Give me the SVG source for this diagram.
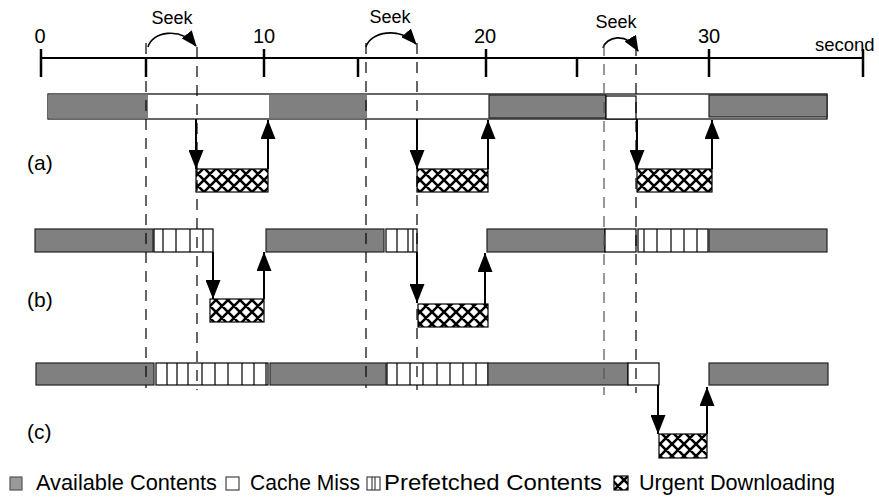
<svg xmlns="http://www.w3.org/2000/svg" width="879" height="499" viewBox="0 0 879 499">
<defs>
<pattern id="hatch" patternUnits="userSpaceOnUse" width="12" height="12" x="0" y="0">
<rect width="12" height="12" fill="#fff"/>
<path d="M0,0 L12,12 M12,0 L0,12 M-6,6 L0,0 M6,18 L18,6 M-6,6 L6,18 M6,-6 L18,6" stroke="#000" stroke-width="2.6"/>
</pattern>
<marker id="ah" viewBox="0 0 19 15" refX="19" refY="7.5" markerWidth="9.5" markerHeight="7.5" markerUnits="strokeWidth" orient="auto">
<path d="M0,0 L19,7.5 L0,15 Z" fill="#000"/>
</marker>
<marker id="sk" viewBox="0 0 16 13" refX="15" refY="6.5" markerWidth="10" markerHeight="8.1" markerUnits="strokeWidth" orient="auto">
<path d="M0,0 L16,6.5 L0,13 Z" fill="#000"/>
</marker>
</defs>
<style>
.t{font-family:"Liberation Sans",Arial,sans-serif;fill:#000}
.num{font-size:20px;text-anchor:middle}
.sk{font-size:18px;text-anchor:middle}
.lab{font-size:21px}
.leg{font-size:21.7px}
.g{fill:#808080;stroke:#222;stroke-width:1.2}
.w{fill:#fff;stroke:#000;stroke-width:1.2}
.p{fill:none;stroke:#000;stroke-width:1.2}
.h{fill:url(#hatch);stroke:#000;stroke-width:1.2}
.dash{stroke:#000;stroke-width:1.2;stroke-dasharray:11 8;fill:none}
.tick{stroke:#000;stroke-width:2.5}
.arr{stroke:#000;stroke-width:2;fill:none;marker-end:url(#ah)}
.seek{stroke:#000;stroke-width:1.6;fill:none;marker-end:url(#sk)}
</style>
<rect width="879" height="499" fill="#fff"/>

<g id="axis">
<line x1="41" y1="58" x2="863" y2="58" stroke="#000" stroke-width="1.8"/>
<line class="tick" x1="41" y1="49" x2="41" y2="77"/>
<line class="tick" x1="146" y1="58" x2="146" y2="77"/>
<line class="tick" x1="264" y1="49" x2="264" y2="77"/>
<line class="tick" x1="358" y1="58" x2="358" y2="77"/>
<line class="tick" x1="486" y1="49" x2="486" y2="77"/>
<line class="tick" x1="577" y1="58" x2="577" y2="77"/>
<line class="tick" x1="709" y1="49" x2="709" y2="77"/>
<line class="tick" x1="863" y1="49" x2="863" y2="77"/>
<text class="t num" x="40" y="43">0</text>
<text class="t num" x="264" y="43">10</text>
<text class="t num" x="485" y="43">20</text>
<text class="t num" x="709" y="43">30</text>
<text class="t" x="815" y="51" style="font-size:18.5px">second</text>
</g>

<g id="seeks">
<text class="t sk" x="172" y="24">Seek</text>
<path class="seek" d="M148,47 C152,32 180,26 196,46"/>
<text class="t sk" x="390" y="23">Seek</text>
<path class="seek" d="M366,47 C370,32 400,26 416,44"/>
<text class="t sk" x="616" y="28">Seek</text>
<path class="seek" d="M603,48 C606,37 626,31 638,51"/>
</g>

<g id="row-a">
<rect class="w" x="48" y="94" width="779" height="25"/>
<rect x="48" y="94.6" width="100" height="23.8" fill="#808080"/>
<rect x="269" y="94.6" width="98" height="23.8" fill="#808080"/>
<rect class="g" x="489" y="95" width="117" height="23"/>
<rect class="w" x="606" y="96" width="30" height="23"/>
<rect class="g" x="709" y="95" width="118" height="22"/>
<rect class="h" x="196" y="169" width="72" height="23"/>
<rect class="h" x="417" y="169" width="71" height="23"/>
<rect class="h" x="637" y="169" width="75" height="23"/>
<text class="t lab" x="27" y="170">(a)</text>
</g>

<g id="row-b">
<rect class="g" x="35" y="229" width="118" height="23"/>
<rect class="w" x="154" y="229" width="59" height="23"/>
<path class="p" d="M163,229V252M176,229V252M190,229V252M203,229V252"/>
<rect class="g" x="266" y="229" width="118" height="23"/>
<rect class="w" x="386" y="229" width="31" height="23"/>
<path class="p" d="M397,229V252M408,229V252M413,229V252"/>
<rect class="g" x="487" y="229" width="118" height="23"/>
<rect class="w" x="605" y="229" width="31" height="23"/>
<rect class="w" x="638" y="229" width="70" height="23"/>
<path class="p" d="M644,229V252M657,229V252M671,229V252M684,229V252M697,229V252"/>
<rect class="g" x="709" y="229" width="118" height="23"/>
<rect class="h" x="210" y="299" width="54" height="23"/>
<rect class="h" x="418" y="304" width="70" height="23"/>
<text class="t lab" x="27" y="307">(b)</text>
</g>

<g id="row-c">
<rect class="g" x="36" y="363" width="118" height="22"/>
<rect class="w" x="156" y="363" width="112" height="22"/>
<path class="p" d="M167,363V385M177,363V385M188,363V385M202,363V385M215,363V385M228,363V385M242,363V385M254,363V385M266,363V385"/>
<rect class="g" x="270" y="363" width="116" height="22"/>
<rect class="w" x="387" y="363" width="101" height="22"/>
<path class="p" d="M397,363V385M410,363V385M423,363V385M437,363V385M450,363V385M463,363V385M476,363V385"/>
<rect class="g" x="488" y="363" width="140" height="22"/>
<rect class="w" x="628" y="363" width="31" height="22"/>
<rect class="g" x="709" y="363" width="119" height="22"/>
<rect class="h" x="659" y="434" width="48" height="24"/>
<text class="t lab" x="27" y="439">(c)</text>
</g>

<g id="connectors">
<line class="dash" x1="146" y1="43" x2="146" y2="388"/>
<line class="dash" x1="197" y1="47" x2="197" y2="390"/>
<line class="dash" x1="366" y1="43" x2="366" y2="388"/>
<line class="dash" x1="417" y1="43" x2="417" y2="390"/>
<line class="dash" x1="604" y1="45" x2="604" y2="395" style="stroke:#555"/>
<line class="dash" x1="636" y1="45" x2="636" y2="393"/>
<line class="arr" x1="196" y1="119" x2="196" y2="169"/>
<line class="arr" x1="268" y1="169" x2="268" y2="120"/>
<line class="arr" x1="417" y1="119" x2="417" y2="169"/>
<line class="arr" x1="488" y1="169" x2="488" y2="120"/>
<line class="arr" x1="637" y1="119" x2="637" y2="169"/>
<line class="arr" x1="712" y1="169" x2="712" y2="120"/>
<line class="arr" x1="213" y1="252" x2="213" y2="299"/>
<line class="arr" x1="264" y1="299" x2="264" y2="252"/>
<line class="arr" x1="417" y1="252" x2="417" y2="303"/>
<line class="arr" x1="485" y1="304" x2="485" y2="253"/>
<line class="arr" x1="658" y1="385" x2="658" y2="434"/>
<line class="arr" x1="707" y1="434" x2="707" y2="387"/>
</g>

<g id="legend">
<rect class="g" x="10" y="477" width="12" height="13" style="fill:#999;stroke:#555"/>
<text class="t leg" x="36" y="490" textLength="181" lengthAdjust="spacingAndGlyphs">Available Contents</text>
<rect class="w" x="226" y="477" width="13" height="13" style="stroke:#444"/>
<text class="t leg" x="250" y="490" textLength="110" lengthAdjust="spacingAndGlyphs">Cache Miss</text>
<rect class="w" x="367" y="477" width="13" height="13" style="stroke:#444"/>
<path class="p" d="M372,477V490M375,477V490" style="stroke:#444"/>
<text class="t leg" x="384" y="490" textLength="218" lengthAdjust="spacingAndGlyphs">Prefetched Contents</text>
<rect class="h" x="614" y="476" width="14" height="14"/>
<text class="t leg" x="639" y="490" textLength="196" lengthAdjust="spacingAndGlyphs">Urgent Downloading</text>
</g>
</svg>
